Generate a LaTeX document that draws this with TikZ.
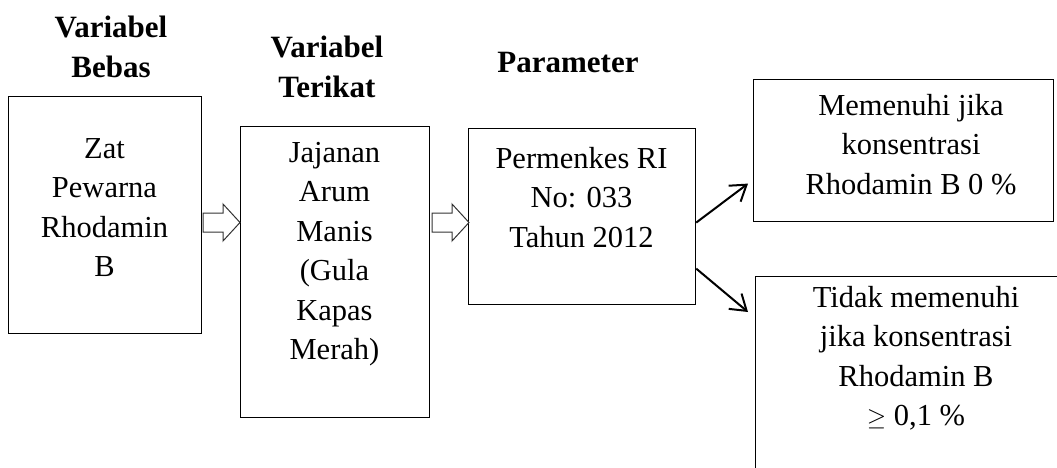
\documentclass[tikz,border=0pt]{standalone}
\usepackage{fontspec}
\setmainfont{Liberation Serif}
\usetikzlibrary{arrows.meta,calc}
\tikzset{
  box/.style={draw, line width=1.2pt, inner sep=0pt, anchor=north west},
  txt/.style={align=center, inner sep=0pt, anchor=north, font=\fontsize{30.5}{39.5}\selectfont},
  ttl/.style={align=center, inner sep=0pt, anchor=north, font=\fontsize{31}{40.5}\selectfont\bfseries},
  diag/.style={line width=2pt, -{Straight Barb[length=15pt,width=20pt]}},
  hollow/.style={draw=black!80, line width=1pt, fill=white, line join=miter}
}
\begin{document}
\begin{tikzpicture}[x=1pt,y=-1pt]
\useasboundingbox (0,0) rectangle (1057,468);
\clip (0,0) rectangle (1057,468);
% titles
\node[ttl] (t1) at (111,8.6) {\strut Variabel\\Bebas};
\node[ttl] (t2) at (327,28.6) {\strut Variabel\\Terikat};
\node[ttl] (t3) at (568,43.6) {\strut Parameter};
% boxes
\node[box, minimum width=193pt, minimum height=237pt] (b1) at (8,96) {};
\node[box, minimum width=189pt, minimum height=291pt] (b2) at (240,126) {};
\node[box, minimum width=227pt, minimum height=176pt] (b3) at (468,128) {};
\node[box, minimum width=300pt, minimum height=142pt] (b4) at (753,79) {};
\node[box, minimum width=330pt, minimum height=220pt] (b5) at (755,276) {};
% texts
\node[txt] (x1) at (104.5,130.5) {\strut Zat\\Pewarna\\Rhodamin\\B};
\node[txt] (x2) at (334.5,134.5) {\strut Jajanan\\Arum\\Manis\\(Gula\\Kapas\\Merah)};
\node[txt] (x3) at (581.5,140.5) {\strut Permenkes RI\\No: 033\\Tahun 2012};
\node[txt] (x4) at (911,87.5) {\strut Memenuhi jika\\konsentrasi\\Rhodamin B 0 \%};
\node[txt] (x5) at (916,279.5) {\strut Tidak memenuhi\\jika konsentrasi\\Rhodamin B\\$\geq$ 0,1 \%};
% hollow arrows
\draw[hollow] (203,213) -- (223,213) -- (223,204) -- (240,222.5) -- (223,241) -- (223,232) -- (203,232) -- cycle;
\draw[hollow] (432,213) -- (452,213) -- (452,204) -- (469,222.5) -- (452,241) -- (452,232) -- (432,232) -- cycle;
% diagonal arrows
\draw[diag] ([yshift=-6pt]b3.east) -- ([xshift=-5pt,yshift=-33pt]b4.west);
\draw[diag] ([yshift=-52pt]b3.east) -- ([xshift=-7pt,yshift=-36pt]b5.north west);
\end{tikzpicture}
\end{document}
